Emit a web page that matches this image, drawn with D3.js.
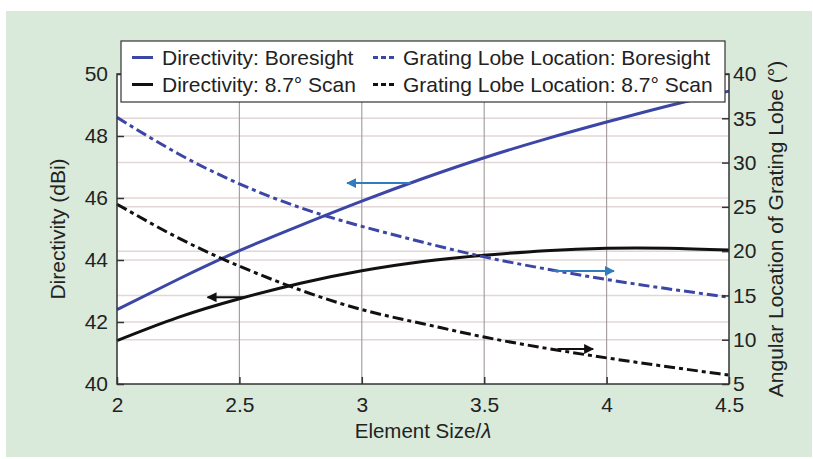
<!DOCTYPE html>
<html>
<head>
<meta charset="utf-8">
<script src="https://cdn.jsdelivr.net/npm/d3@7"></script>
<style>
  body { margin: 0; background: #fff; }
  text { font-family: "Liberation Sans", Arial, sans-serif; fill: #222; }
</style>
</head>
<body>
<div id="chart"></div>
<script>
// element size / lambda
const sizes = [2, 2.25, 2.5, 2.75, 3, 3.25, 3.5, 3.75, 4, 4.25, 4.5];
// directivity (dBi), left axis
const dirBoresight = [42.4, 43.38, 44.3, 45.12, 45.9, 46.63, 47.3, 47.9, 48.45, 48.97, 49.45];
const dirScan = [41.4, 42.15, 42.75, 43.25, 43.65, 43.95, 44.15, 44.3, 44.38, 44.38, 44.32];
// grating lobe location (deg), right axis
const glBoresight = [35.1, 31.0, 27.6, 24.9, 22.8, 21.0, 19.35, 18.0, 16.8, 15.75, 14.8];
const glScan = [25.3, 21.5, 18.3, 15.6, 13.4, 11.8, 10.3, 9.05, 7.95, 6.95, 6.0];

const xTicks = [2, 2.5, 3, 3.5, 4, 4.5];
const leftTicks = [40, 42, 44, 46, 48, 50];
const rightTicks = [5, 10, 15, 20, 25, 30, 35, 40];

// arrows: [x from, x to, value, axis]
const arrows = [
  { x0: 3.2, x1: 2.94, v: 46.48, axis: 'left', color: '#2f7cbf' },
  { x0: 2.515, x1: 2.37, v: 42.8, axis: 'left', color: '#111' },
  { x0: 3.78, x1: 4.03, v: 17.76, axis: 'right', color: '#2f7cbf' },
  { x0: 3.80, x1: 3.945, v: 8.95, axis: 'right', color: '#111' }
];

const w = 813, h = 459;
const blue = '#3b46a6';

const svg = d3.select('#chart').append('svg')
  .attr('width', w)
  .attr('height', h);

// green panel
svg.append('rect')
  .attr('x', 6).attr('y', 11)
  .attr('width', 806).attr('height', 446)
  .attr('fill', '#d9eadb');

// scales
const x = d3.scaleLinear().domain([2, 4.5]).range([117, 729]);
const yL = d3.scaleLinear().domain([40, 50]).range([384, 74]);
const yR = d3.scaleLinear().domain([5, 40]).range([384, 74]);

svg.append('rect')
  .attr('x', x(2)).attr('y', yL(50))
  .attr('width', x(4.5) - x(2)).attr('height', yL(40) - yL(50))
  .attr('fill', '#fff');

// grid
const grid = svg.append('g');
grid.selectAll('.hl')
  .data(leftTicks.slice(1, -1))
  .enter().append('line')
  .attr('x1', x(2)).attr('x2', x(4.5))
  .attr('y1', d => yL(d)).attr('y2', d => yL(d))
  .attr('stroke', '#e2d6d6').attr('stroke-width', 1.5);
grid.selectAll('.hr')
  .data(rightTicks.slice(1, -1))
  .enter().append('line')
  .attr('x1', x(2)).attr('x2', x(4.5))
  .attr('y1', d => yR(d)).attr('y2', d => yR(d))
  .attr('stroke', '#e2d6d6').attr('stroke-width', 1.5);
grid.selectAll('.vl')
  .data(xTicks.slice(1, -1))
  .enter().append('line')
  .attr('x1', d => x(d)).attr('x2', d => x(d))
  .attr('y1', yL(50)).attr('y2', yL(40))
  .attr('stroke', '#a8a0a0').attr('stroke-width', 1.2);

// curves
const series = [
  { vals: dirBoresight, y: yL, color: blue, dash: null },
  { vals: dirScan, y: yL, color: '#111', dash: null },
  { vals: glBoresight, y: yR, color: blue, dash: '11,4,4,4' },
  { vals: glScan, y: yR, color: '#111', dash: '11,4,4,4' }
];
series.forEach(s => {
  const line = d3.line()
    .x((d, i) => x(sizes[i]))
    .y(d => s.y(d))
    .curve(d3.curveNatural);
  svg.append('path')
    .datum(s.vals)
    .attr('d', line)
    .attr('fill', 'none')
    .attr('stroke', s.color)
    .attr('stroke-width', 3)
    .attr('stroke-dasharray', s.dash);
});

// arrows
const defs = svg.append('defs');
arrows.forEach((a, i) => {
  defs.append('marker')
    .attr('id', 'ah' + i)
    .attr('viewBox', '0 0 10 10')
    .attr('refX', 9).attr('refY', 5)
    .attr('markerWidth', 5).attr('markerHeight', 5)
    .attr('markerUnits', 'strokeWidth')
    .attr('orient', 'auto')
    .append('path')
    .attr('d', 'M0,0 L10,5 L0,10 z')
    .attr('fill', a.color);
  const yy = a.axis === 'left' ? yL(a.v) : yR(a.v);
  svg.append('line')
    .attr('x1', x(a.x0)).attr('x2', x(a.x1))
    .attr('y1', yy).attr('y2', yy)
    .attr('stroke', a.color)
    .attr('stroke-width', 2)
    .attr('marker-end', 'url(#ah' + i + ')');
});

// axes
const fs = '21px';
const gl = svg.append('g')
  .attr('transform', 'translate(' + x(2) + ',0)')
  .call(d3.axisLeft(yL).tickValues(leftTicks).tickSize(-7).tickPadding(9));
const gb = svg.append('g')
  .attr('transform', 'translate(0,' + yL(40) + ')')
  .call(d3.axisBottom(x).tickValues(xTicks).tickFormat(d3.format('')).tickSize(-7).tickPadding(13));
const gr = svg.append('g')
  .attr('transform', 'translate(' + x(4.5) + ',0)')
  .call(d3.axisRight(yR).tickValues(rightTicks).tickSize(-7).tickPadding(4));
[gl, gb, gr].forEach(g => {
  g.select('.domain').remove();
  g.selectAll('.tick line').attr('stroke', '#333').attr('stroke-width', 1.5);
  g.selectAll('.tick text')
    .style('font-family', '"Liberation Sans", Arial, sans-serif')
    .style('font-size', fs)
    .attr('fill', '#222');
});

// plot box
svg.append('rect')
  .attr('x', x(2)).attr('y', yL(50))
  .attr('width', x(4.5) - x(2)).attr('height', yL(40) - yL(50))
  .attr('fill', 'none')
  .attr('stroke', '#333')
  .attr('stroke-width', 1.5);

// legend
const lg = svg.append('g');
lg.append('rect')
  .attr('x', 121).attr('y', 41)
  .attr('width', 604).attr('height', 61)
  .attr('fill', '#fff')
  .attr('stroke', '#333')
  .attr('stroke-width', 1.2);
const legendItems = [
  { label: 'Directivity: Boresight', color: blue, dash: null, lx: 132, ly: 57.5 },
  { label: 'Directivity: 8.7° Scan', color: '#111', dash: null, lx: 132, ly: 84.5 },
  { label: 'Grating Lobe Location: Boresight', color: blue, dash: '5,3', lx: 373, ly: 57.5 },
  { label: 'Grating Lobe Location: 8.7° Scan', color: '#111', dash: '5,3', lx: 373, ly: 84.5 }
];
legendItems.forEach(d => {
  lg.append('line')
    .attr('x1', d.lx).attr('x2', d.lx + 21)
    .attr('y1', d.ly).attr('y2', d.ly)
    .attr('stroke', d.color)
    .attr('stroke-width', 3)
    .attr('stroke-dasharray', d.dash);
  lg.append('text')
    .attr('x', d.lx + 30)
    .attr('y', d.ly)
    .attr('dy', '0.35em')
    .style('font-size', fs)
    .text(d.label);
});

// axis titles
const xt = svg.append('text')
  .attr('x', (x(2) + x(4.5)) / 2)
  .attr('y', 438)
  .attr('text-anchor', 'middle')
  .style('font-size', '20.5px');
xt.append('tspan').text('Element Size/');
xt.append('tspan').style('font-style', 'italic').text('λ');

svg.append('text')
  .attr('transform', 'translate(65,' + yL(45) + ') rotate(-90)')
  .attr('text-anchor', 'middle')
  .style('font-size', fs)
  .text('Directivity (dBi)');

svg.append('text')
  .attr('transform', 'translate(783,' + yL(45) + ') rotate(-90)')
  .attr('text-anchor', 'middle')
  .style('font-size', fs)
  .text('Angular Location of Grating Lobe (°)');
</script>
</body>
</html>
